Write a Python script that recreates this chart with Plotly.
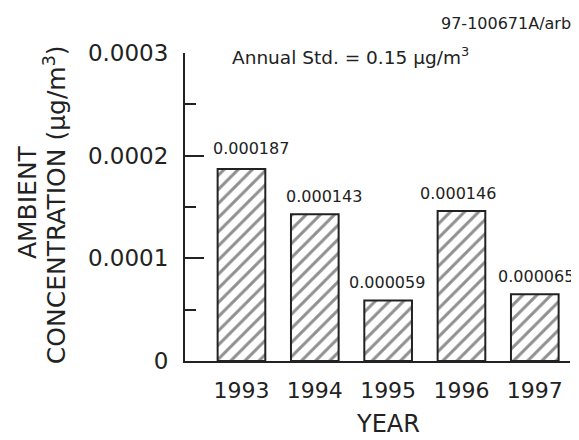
import plotly.graph_objects as go

years = [1993, 1994, 1995, 1996, 1997]
values = [0.000187, 0.000143, 0.000059, 0.000146, 0.000065]
value_labels = ["0.000187", "0.000143", "0.000059", "0.000146", "0.000065"]
y_ticks = [0, 0.0001, 0.0002, 0.0003]
y_tick_labels = ["0", "0.0001", "0.0002", "0.0003"]

# label placement tweaks (pixels)
label_xshift = [10, 9, -1, -3, 1]
label_yshift = [9, 6, 6, 6, 6]

FONT = "DejaVu Sans"
INK = "#222222"

fig = go.Figure()
fig.add_trace(go.Bar(
    x=years, y=values, width=0.65,
    marker=dict(color="white",
                line=dict(color=INK, width=2),
                pattern=dict(shape="/", size=10, solidity=0.3,
                             fgcolor=INK, bgcolor="white")),
    showlegend=False,
))

for yr, v, lab, dx, dy in zip(years, values, value_labels, label_xshift, label_yshift):
    fig.add_annotation(x=yr, y=v, text=lab, showarrow=False,
                       xanchor="center", yanchor="bottom",
                       xshift=dx, yshift=dy,
                       font=dict(family=FONT, size=16, color=INK))

fig.add_annotation(xref="paper", yref="paper", x=0.117, y=0.979, yshift=3,
                   text="Annual Std. = 0.15 µg/m<sup>3</sup>", showarrow=False,
                   xanchor="left", yanchor="middle",
                   font=dict(family=FONT, size=18.5, color=INK))
fig.add_annotation(xref="paper", yref="paper", x=1.008, y=1.095,
                   text="97-100671A/arb", showarrow=False,
                   xanchor="right", yanchor="middle",
                   font=dict(family=FONT, size=16, color=INK))
fig.add_annotation(xref="paper", yref="paper", x=0.527, y=0, yshift=-63,
                   text="YEAR", showarrow=False,
                   xanchor="center", yanchor="middle",
                   font=dict(family=FONT, size=24, color=INK))
fig.add_annotation(xref="paper", yref="paper", x=0, xshift=-158, y=0.516,
                   text="AMBIENT", showarrow=False, textangle=-90,
                   xanchor="center", yanchor="middle",
                   font=dict(family=FONT, size=25, color=INK))
fig.add_annotation(xref="paper", yref="paper", x=0, xshift=-130, y=0.506,
                   text="CONCENTRATION (µg/m<sup>3</sup>)", showarrow=False, textangle=-90,
                   xanchor="center", yanchor="middle",
                   font=dict(family=FONT, size=25, color=INK))

# page body has an 8px margin, so the figure is sized to 571x432
fig.update_layout(
    width=571, height=432,
    margin=dict(l=177, r=9, t=44.5, b=78.5, autoexpand=False),
    paper_bgcolor="white", plot_bgcolor="white",
    bargap=0.35,
    font=dict(family=FONT, color=INK),
)
fig.update_xaxes(
    range=[1992.23, 1997.48], tickmode="array", tickvals=years,
    ticktext=[str(y) for y in years],
    showline=True, linecolor=INK, linewidth=2, ticks="",
    showgrid=False, zeroline=False, ticklabelstandoff=9,
    tickfont=dict(family=FONT, size=22, color=INK),
)
fig.update_yaxes(
    range=[0, 0.0003], tickmode="array", tickvals=y_ticks, ticktext=y_tick_labels,
    showline=True, linecolor=INK, linewidth=2,
    ticks="inside", ticklen=19, tickwidth=2, tickcolor=INK,
    minor=dict(dtick=0.00005, ticks="inside", ticklen=11, tickwidth=2, tickcolor=INK, showgrid=False),
    showgrid=False, zeroline=False, ticklabelstandoff=10,
    tickfont=dict(family=FONT, size=23, color=INK),
)

fig.write_html("out.html")
